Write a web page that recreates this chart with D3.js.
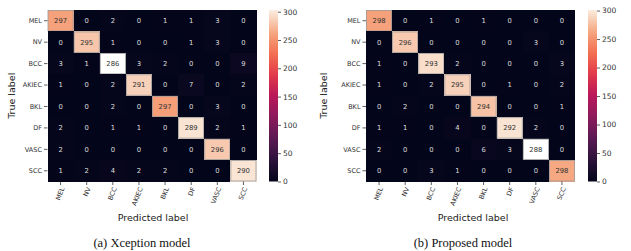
<!DOCTYPE html>
<html>
<head>
<meta charset="utf-8">
<script src="https://cdn.jsdelivr.net/npm/d3@7"></script>
<style>
  body { margin: 0; background: #fff; }
  svg { display: block; }
</style>
</head>
<body>
<svg id="chart" width="631" height="251"></svg>
<script>
const classes = ["MEL", "NV", "BCC", "AKIEC", "BKL", "DF", "VASC", "SCC"];

// rows = true label, columns = predicted label
const xceptionCounts = [
    [297, 0, 2, 0, 1, 1, 3, 0],
    [0, 295, 1, 0, 0, 1, 3, 0],
    [3, 1, 286, 3, 2, 0, 0, 9],
    [1, 0, 2, 291, 0, 7, 0, 2],
    [0, 0, 2, 0, 297, 0, 3, 0],
    [2, 0, 1, 1, 0, 289, 2, 1],
    [2, 0, 0, 0, 0, 0, 296, 0],
    [1, 2, 4, 2, 2, 0, 0, 290]
];
const proposedCounts = [
    [298, 0, 1, 0, 1, 0, 0, 0],
    [0, 296, 0, 0, 0, 0, 3, 0],
    [1, 0, 293, 2, 0, 0, 0, 3],
    [1, 0, 2, 295, 0, 1, 0, 2],
    [0, 2, 0, 0, 294, 0, 0, 1],
    [1, 1, 0, 4, 0, 292, 2, 0],
    [2, 0, 0, 0, 6, 3, 288, 0],
    [0, 0, 3, 1, 0, 0, 0, 298]
];
// the diagonal cells in the picture are not shaded by their count;
// this is the colour level each one shows, read against the colorbar
const xceptionDiagTone = [260, 280, 320, 286, 258, 296, 282, 297];
const proposedDiagTone = [260, 282, 293, 286, 278, 296, 320, 264];

const colorbarTicks = [0, 50, 100, 150, 200, 250, 300];

const rocketStops = ["#03051a", "#2b133a", "#5a1953", "#8a1c5c", "#b8175a", "#e1374a",
    "#f36e50", "#f5a57e", "#faebdd"];

const svg = d3.select("#chart");

const color = d3.scaleLinear()
    .domain(rocketStops.map((c, i) => i * 300 / (rocketStops.length - 1)).concat([320]))
    .range(rocketStops.concat(["#ffffff"]))
    .clamp(true);

const defs = svg.append("defs");

function drawMatrix(opt) {
    const g = svg.append("g").attr("font-family", "DejaVu Sans, sans-serif");

    const x = d3.scaleBand().domain(classes).range([opt.left, opt.right]);
    const y = d3.scaleBand().domain(classes).range([opt.top, opt.bottom]);

    const cells = [];
    opt.counts.forEach((row, i) => row.forEach((v, j) => {
        cells.push({
            t: classes[i], p: classes[j], v: v,
            tone: i === j ? opt.tone[i] : v,
            diag: i === j
        });
    }));

    const cell = g.append("g").selectAll("g")
        .data(cells)
        .enter().append("g")
        .attr("transform", d => `translate(${x(d.p)},${y(d.t)})`);

    cell.append("rect")
        .attr("width", x.bandwidth())
        .attr("height", y.bandwidth())
        .attr("fill", d => color(d.tone))
        .attr("shape-rendering", "crispEdges");

    cell.filter(d => d.diag).append("rect")
        .attr("x", 0.5).attr("y", 0.5)
        .attr("width", x.bandwidth() - 1)
        .attr("height", y.bandwidth() - 1)
        .attr("fill", "none")
        .attr("stroke", "#9a9a9a")
        .attr("stroke-width", 0.8);

    cell.append("text")
        .attr("x", x.bandwidth() / 2)
        .attr("y", y.bandwidth() / 2)
        .attr("dy", "0.36em")
        .attr("text-anchor", "middle")
        .attr("font-size", 6.8)
        .attr("fill", d => d.tone > 180 ? "#333" : "#dedede")
        .text(d => d.v);

    // row ticks
    const rowTick = g.append("g").selectAll("g")
        .data(classes)
        .enter().append("g")
        .attr("transform", d => `translate(${opt.left},${y(d) + y.bandwidth() / 2})`);
    rowTick.append("line").attr("x1", -3.5).attr("x2", 0).attr("stroke", "#333").attr("stroke-width", 0.8);
    rowTick.append("text")
        .attr("x", -5.5)
        .attr("dy", "0.35em")
        .attr("text-anchor", "end")
        .attr("font-size", 6.5)
        .attr("fill", "#333")
        .text(d => d);

    // column ticks
    const colTick = g.append("g").selectAll("g")
        .data(classes)
        .enter().append("g")
        .attr("transform", d => `translate(${x(d) + x.bandwidth() / 2},${opt.bottom})`);
    colTick.append("line").attr("y1", 0).attr("y2", 3.5).attr("stroke", "#333").attr("stroke-width", 0.8);
    colTick.append("text")
        .attr("transform", "translate(2,6) rotate(-68)")
        .attr("dy", "0.35em")
        .attr("text-anchor", "end")
        .attr("font-size", 6.5)
        .attr("fill", "#333")
        .text(d => d);

    g.append("text")
        .attr("transform", `translate(${opt.trueX},${(opt.top + opt.bottom) / 2}) rotate(-90)`)
        .attr("dy", "0.35em")
        .attr("text-anchor", "middle")
        .attr("font-size", 9.5)
        .attr("fill", "#222")
        .text("True label");

    g.append("text")
        .attr("x", opt.predX)
        .attr("y", 221)
        .attr("text-anchor", "middle")
        .attr("font-size", 9.5)
        .attr("fill", "#222")
        .text("Predicted label");

    // colorbar
    const cy = d3.scaleLinear().domain([0, opt.cbarMax]).range([opt.bottom, opt.top]);
    const gid = "grad" + opt.id;
    const grad = defs.append("linearGradient")
        .attr("id", gid)
        .attr("x1", 0).attr("y1", 1).attr("x2", 0).attr("y2", 0);
    d3.range(0, 1.0001, 0.05).forEach(t => {
        grad.append("stop")
            .attr("offset", t)
            .attr("stop-color", color(t * opt.cbarMax));
    });
    g.append("rect")
        .attr("x", opt.cbarX)
        .attr("y", opt.top)
        .attr("width", 9)
        .attr("height", opt.bottom - opt.top)
        .attr("fill", `url(#${gid})`);

    g.append("g")
        .attr("transform", `translate(${opt.cbarX + 9},0)`)
        .call(d3.axisRight(cy).tickValues(colorbarTicks).tickSize(3).tickPadding(2))
        .call(a => a.select(".domain").remove())
        .call(a => a.selectAll("line").attr("stroke", "#333").attr("stroke-width", 0.8))
        .call(a => a.selectAll("text")
            .attr("font-family", "DejaVu Sans, sans-serif")
            .attr("font-size", 7.5)
            .attr("fill", "#333"));

    svg.append("text")
        .attr("x", opt.capX)
        .attr("y", 247)
        .attr("text-anchor", "middle")
        .attr("font-family", "Liberation Serif, Times New Roman, serif")
        .attr("font-size", 12.5)
        .attr("fill", "#111")
        .text(opt.caption);
}

drawMatrix({
    id: "a", counts: xceptionCounts, tone: xceptionDiagTone,
    left: 47.5, right: 256.5, top: 10, bottom: 181.5,
    cbarX: 269, cbarMax: 303, trueX: 11.5,
    predX: 153, capX: 142, caption: "(a) Xception model"
});

drawMatrix({
    id: "b", counts: proposedCounts, tone: proposedDiagTone,
    left: 366, right: 575, top: 10, bottom: 181.5,
    cbarX: 588, cbarMax: 301, trueX: 324,
    predX: 473, capX: 463, caption: "(b) Proposed model"
});
</script>
</body>
</html>
